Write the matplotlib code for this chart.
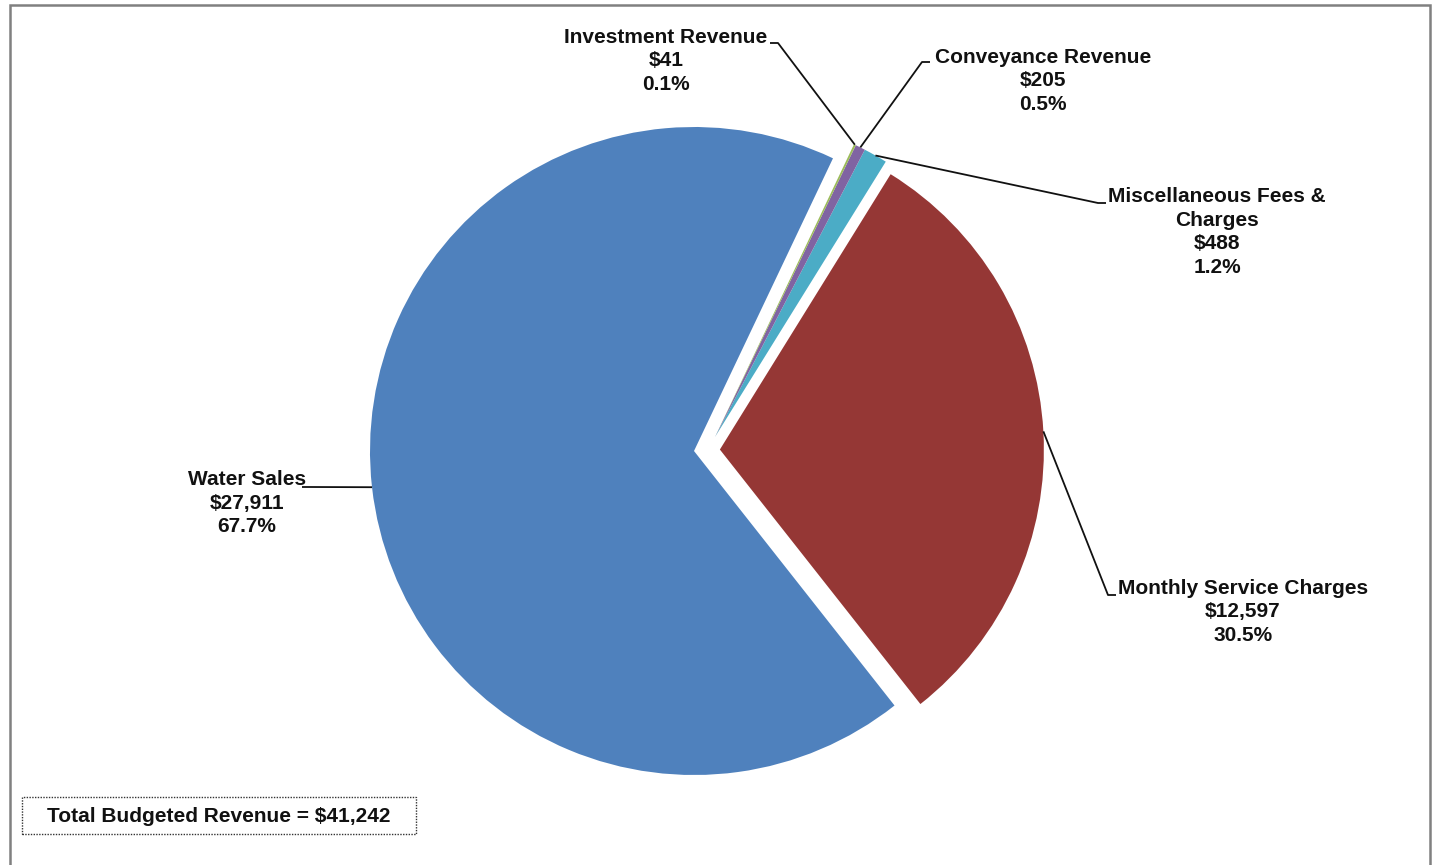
import matplotlib.pyplot as plt
from matplotlib.patches import Rectangle
import numpy as np

plt.rcParams['font.family'] = ['Liberation Sans', 'DejaVu Sans']

categories = ['Water Sales', 'Monthly Service Charges', 'Miscellaneous Fees &\nCharges',
              'Conveyance Revenue', 'Investment Revenue']
values = [27911, 12597, 488, 205, 41]
colors = ['#4F81BD', '#953735', '#4BACC6', '#8064A2', '#9BBB59']
explode = [0.0, 0.08, 0.0, 0.0, 0.0]

total = sum(values)
W, H = 1433, 865
R = 324

fig = plt.figure(figsize=(W / 100, H / 100), dpi=100)
ax = fig.add_axes([0, 0, 1, 1])

# pie laid out in pixel units (y up); explode is absolute, so scale by radius
wedges, _ = ax.pie(values, colors=colors, explode=[e * R for e in explode],
                   startangle=64.6, counterclock=True, radius=R,
                   center=(694, H - 451), wedgeprops=dict(linewidth=0))

# the three small slices are pulled out together as one group
for w in wedges[2:]:
    cx, cy = w.center
    w.set_center((cx + 21, cy + 14))

ax.set_xlim(0, W)
ax.set_ylim(0, H)
ax.set_aspect('equal')
ax.axis('off')

# label block centre, leader elbow and which side of the text it sits on
label_pos = [(247, 503), (1243, 612), (1217, 232), (1043, 81), (666, 61)]
elbows = [(310, 487, -1), (1108, 595, 1), (1098, 203, 1), (922, 62, 1), (778, 43, -1)]

for w, name, val, (lx, ly), (ex, ey, side) in zip(wedges, categories, values, label_pos, elbows):
    mid = np.deg2rad((w.theta1 + w.theta2) / 2)
    cx, cy = w.center
    px_ = cx + w.r * np.cos(mid)
    py_ = cy + w.r * np.sin(mid)
    txt = f'{name}\n${val:,}\n{val / total * 100:.1f}%'
    ax.text(lx, H - ly, txt, ha='center', va='center', multialignment='center',
            fontsize=15, fontweight='bold', color='#111111', linespacing=1.3)
    ax.plot([px_, ex, ex + side * 8], [py_, H - ey, H - ey], color='#111111', lw=1.3,
            solid_capstyle='butt')

ax.text(219, H - 816, f'Total Budgeted Revenue = ${total:,}', ha='center', va='center',
        fontsize=15, fontweight='bold', color='#111111')
ax.add_patch(Rectangle((22, H - 834), 394, 37, fill=False, edgecolor='#333333',
                       linestyle=(0, (1, 1)), linewidth=1.0))

# outer chart frame
fig.patches.append(Rectangle((10 / W, -0.05), 1420 / W, (H - 5) / H + 0.05,
                             transform=fig.transFigure, fill=False,
                             edgecolor='#808080', linewidth=1.8))

fig.savefig('out.png', dpi=100)
